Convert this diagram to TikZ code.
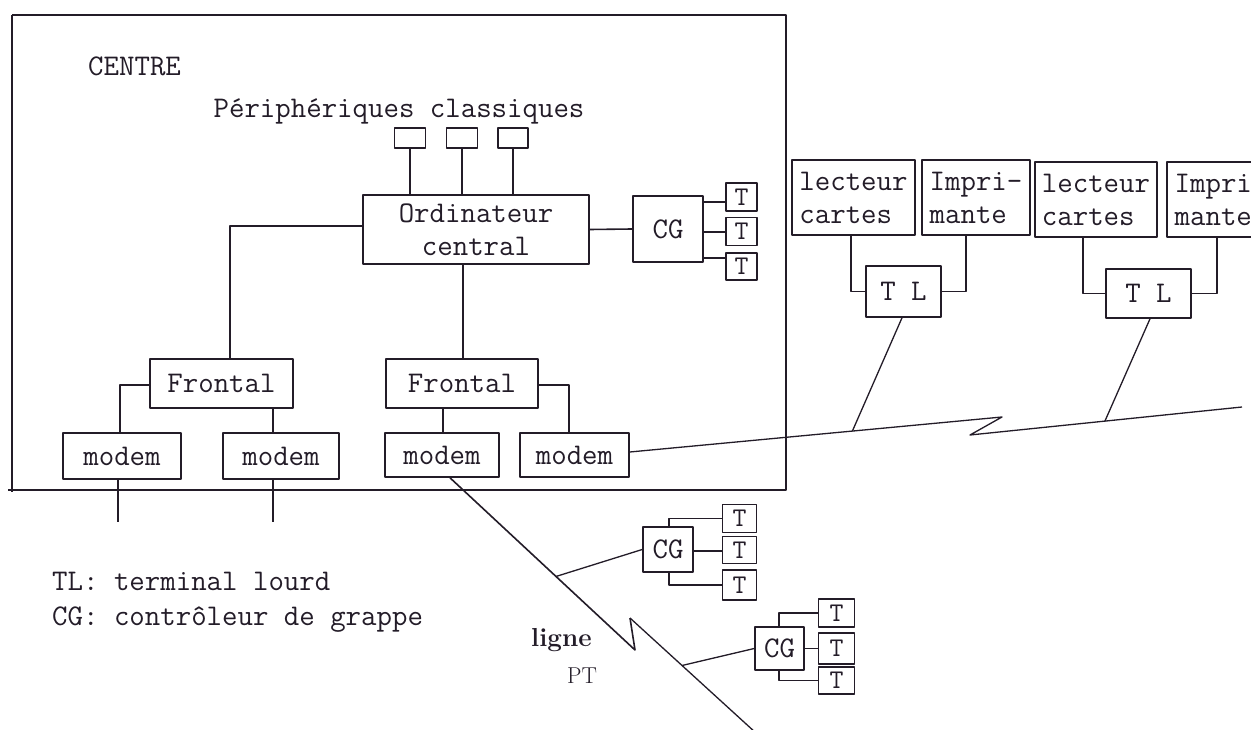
\documentclass[tikz,border=0pt]{standalone}
\usepackage{fontspec}
\usetikzlibrary{calc}
\definecolor{ink}{RGB}{35,28,40}
\begin{document}
\begin{tikzpicture}[x=1pt,y=-1pt,line join=round,
  box/.style={draw=ink,line width=1.6pt,inner sep=0pt,text=ink,
    font=\ttfamily\fontsize{30}{33}\selectfont},
  tbox/.style={draw=ink,line width=1.6pt,inner sep=0pt,text=ink,
    font=\ttfamily\fontsize{27}{30}\selectfont},
  conn/.style={draw=ink,line width=1.3pt},
  label/.style={text=ink,inner sep=0pt,font=\ttfamily\fontsize{30}{33}\selectfont}]
\useasboundingbox (0,0) rectangle (1251,730);
\fill[white] (0,0) rectangle (1251,730);
\clip (0,0) rectangle (1251,730);

% frame of the centre
\draw[ink,line width=1.6pt] (12,15) -- (786,15) -- (786,490) -- (8,490);
\draw[ink,line width=1.6pt] (12,15) -- (12,492);

\node[label,anchor=base west] (centre) at (88,76) {CENTRE};
\node[label,anchor=base] (periph) at (399,118) {Périphériques classiques};

% peripherals
\node[box,minimum width=31pt,minimum height=20pt] (p1) at (410,138) {};
\node[box,minimum width=31pt,minimum height=20pt] (p2) at (462,138) {};
\node[box,minimum width=30pt,minimum height=20pt] (p3) at (513,138) {};

\node[box,minimum width=226pt,minimum height=69pt,align=center] (ord) at (476,229.5) {Ordinateur\\central};
\node[box,minimum width=70pt,minimum height=66pt] (cg0) at (668,229) {CG};
\node[tbox,minimum width=31pt,minimum height=28pt] (t01) at (741.5,197) {T};
\node[tbox,minimum width=31pt,minimum height=28pt] (t02) at (741.5,231.5) {T};
\node[tbox,minimum width=31pt,minimum height=27pt] (t03) at (741.5,266.5) {T};

\node[box,minimum width=143pt,minimum height=49pt] (fr1) at (221.5,383.5) {Frontal};
\node[box,minimum width=152pt,minimum height=49pt] (fr2) at (462,383.5) {Frontal};

\node[box,minimum width=118pt,minimum height=46pt] (m1) at (122,456) {modem};
\node[box,minimum width=116pt,minimum height=46pt] (m2) at (281,456) {modem};
\node[box,minimum width=114pt,minimum height=44pt] (m3) at (442,455) {modem};
\node[box,minimum width=109pt,minimum height=44pt] (m4) at (574.5,455) {modem};

% heavy terminals
\node[box,minimum width=123pt,minimum height=75pt,align=left] (lc1) at (853.5,197.5) {lecteur\\cartes};
\node[box,minimum width=108pt,minimum height=75pt,align=left] (im1) at (976,197.5) {Impri-\\mante};
\node[box,minimum width=122pt,minimum height=75pt,align=left] (lc2) at (1096,199.5) {lecteur\\cartes};
\node[box,minimum width=108pt,minimum height=75pt,align=left] (im2) at (1221,199.5) {Impri-\\mante};
\node[box,minimum width=75pt,minimum height=51pt] (tl1) at (903.5,291.5) {T L};
\node[box,minimum width=85pt,minimum height=49pt] (tl2) at (1148.5,293.5) {T L};

% remote cluster controllers
\node[box,minimum width=50pt,minimum height=45pt] (cg1) at (668,549.5) {CG};
\node[tbox,minimum width=34pt,minimum height=28pt] (t11) at (739.5,518.5) {T};
\node[tbox,minimum width=34pt,minimum height=27pt] (t12) at (739.5,550) {T};
\node[tbox,minimum width=34pt,minimum height=30pt] (t13) at (739.5,585) {T};

\node[box,minimum width=49pt,minimum height=43pt] (cg2) at (779.5,648.5) {CG};
\node[tbox,minimum width=36pt,minimum height=28pt] (t21) at (836.5,613) {T};
\node[tbox,minimum width=36pt,minimum height=31pt] (t22) at (836.5,648.5) {T};
\node[tbox,minimum width=36pt,minimum height=27pt] (t23) at (836.5,680.5) {T};

% legend
\node[label,anchor=base west] (leg1) at (52,590) {TL: terminal lourd};
\node[label,anchor=base west] (leg2) at (52,625) {CG: contrôleur de grappe};
\node[anchor=base west,inner sep=0pt,text=ink,font=\bfseries\fontsize{26}{30}\selectfont] (ligne) at (531,646) {ligne};
\node[anchor=base west,inner sep=0pt,text=ink,font=\fontsize{23}{26}\selectfont] (pt) at (567,683) {PT};

% connectors inside the centre
\draw[conn] (p1.south) -- (p1.south |- ord.north);
\draw[conn] (p2.south) -- (p2.south |- ord.north);
\draw[conn] (p3.south) -- (p3.south |- ord.north);
\draw[conn,line width=1.6pt] (ord.east) -- (cg0.west);
\draw[conn] (cg0.east |- 0,202) -- (t01.west |- 0,202);
\draw[conn] (cg0.east |- 0,232) -- (t02.west |- 0,232);
\draw[conn] (cg0.east |- 0,258) -- (t03.west |- 0,258);
\draw[conn] (ord.west |- 0,226) -| (fr1.north -| 230,0);
\draw[conn] (ord.south -| 463,0) -- (fr2.north -| 463,0);
\draw[conn] (fr1.west |- 0,385) -| (m1.north -| 120,0);
\draw[conn] (fr1.south -| 273,0) -- (m2.north -| 273,0);
\draw[conn] (fr2.south -| 443,0) -- (m3.north -| 443,0);
\draw[conn] (fr2.east |- 0,385) -| (m4.north -| 569,0);

% lines leaving the centre
\coordinate (e1) at (118,522);
\coordinate (e2) at (273,522);
\draw[conn] (m1.south -| e1) -- (e1);
\draw[conn] (m2.south -| e2) -- (e2);

\coordinate (ms) at (m3.south -| 450,0);
\coordinate (za) at (635,650);
\coordinate (zb) at (630,618);
\coordinate (zend) at (756,733);
\draw[conn,line width=1.6pt] (ms) -- (za) -- (zb);
\draw[conn] (zb) -- (zend);
\coordinate (c1) at ($(ms)!0.573!(za)$);
\coordinate (c2) at ($(zb)!0.413!(zend)$);
\draw[conn] (c1) -- (cg1.west);
\draw[conn] (c2) -- (cg2.west);

\coordinate (ma) at (m4.east |- 0,452);
\coordinate (zc) at (1002,417);
\coordinate (zd) at (970,435);
\coordinate (ze) at (1242,407);
\draw[conn] (ma) -- (zc) -- (zd) -- (ze);
\coordinate (c3) at ($(ma)!0.598!(zc)$);
\coordinate (c4) at ($(zd)!0.496!(ze)$);
\draw[conn] (tl1.south -| 902,0) -- (c3);
\draw[conn] (tl2.south -| 1150,0) -- (c4);

% heavy terminal wiring
\draw[conn] (lc1.south -| 851,0) |- (tl1.west);
\draw[conn] (im1.south -| 966,0) |- (tl1.east);
\draw[conn] (lc2.south -| 1083,0) |- (tl2.west);
\draw[conn] (im2.south -| 1217,0) |- (tl2.east);

% remote CG wiring
\draw[conn] (cg1.north -| 669,0) |- (t11.west);
\draw[conn] (cg1.east |- 0,551) -- (t12.west |- 0,551);
\draw[conn] (cg1.south -| 669,0) |- (t13.west);
\draw[conn] (cg2.north -| 779,0) |- (t21.west);
\draw[conn] (cg2.east) -- (t22.west);
\draw[conn] (cg2.south -| 779,0) |- (t23.west);
\end{tikzpicture}
\end{document}
